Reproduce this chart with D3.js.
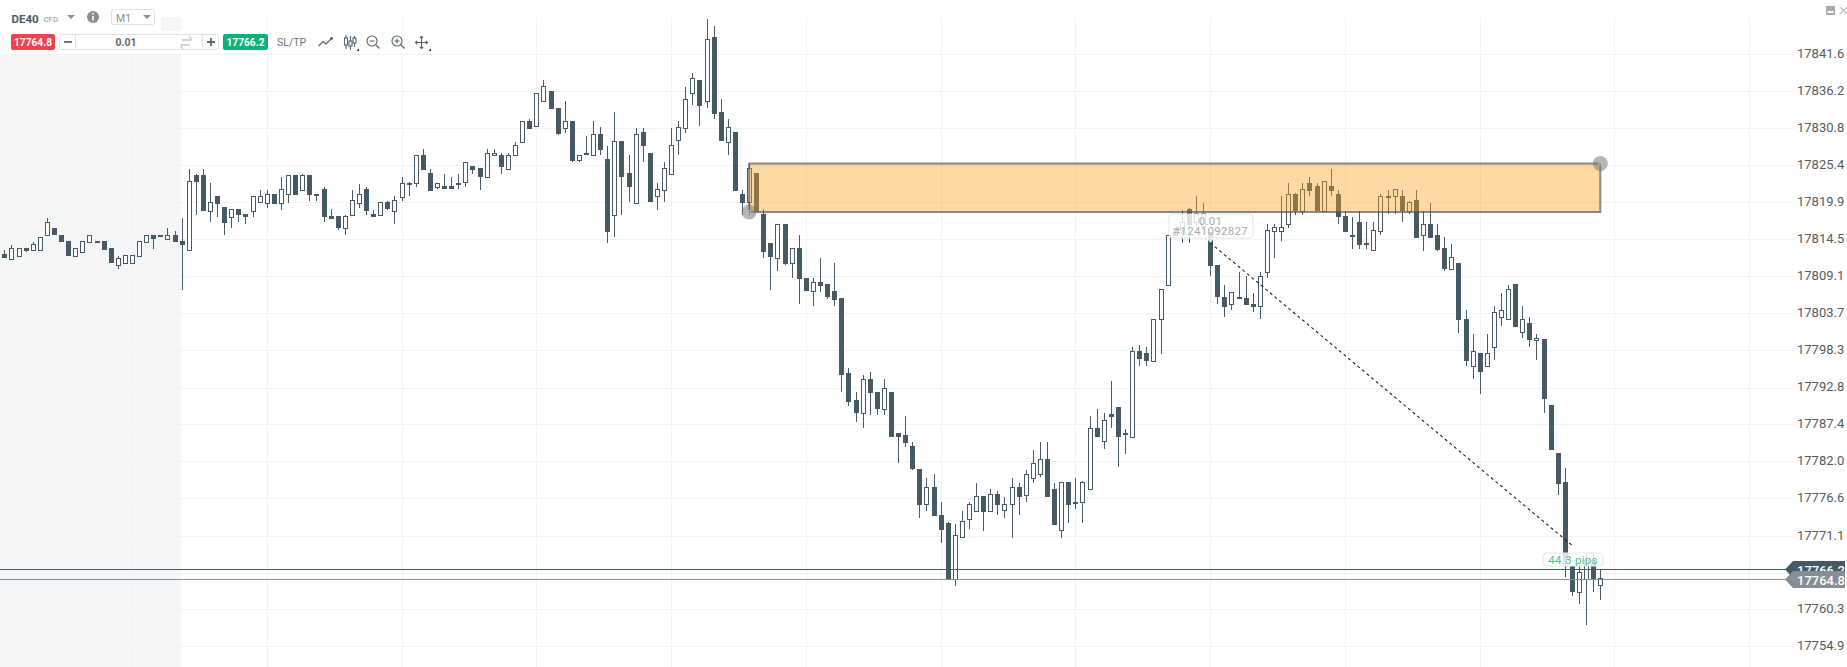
<!DOCTYPE html>
<html><head><meta charset="utf-8">
<style>html,body{margin:0;padding:0;background:#fff;overflow:hidden}svg{display:block;font-family:Roboto,sans-serif}</style>
<script src="https://cdn.jsdelivr.net/npm/d3@7/dist/d3.min.js"></script>
</head><body><svg id="c" width="1847" height="667"></svg>
<script>
const BASE = 17000;
const opens = [812.3,811.6,812.0,813.2,813.0,813.0,815.1,816.2,815.2,814.2,
812.0,812.6,814.1,814.2,814.2,813.2,810.7,811.0,811.0,812.0,
814.1,815.2,815.2,814.6,815.2,814.2,813.0,823.9,823.9,818.7,
820.9,819.2,817.7,818.9,818.2,818.7,820.0,819.8,821.2,819.8,
821.1,823.9,821.7,823.9,821.2,821.8,817.9,817.9,816.1,818.0,
819.8,821.8,818.2,818.0,820.0,818.7,820.7,822.8,822.7,826.9,
824.2,822.1,822.3,822.3,822.8,822.9,825.2,824.9,823.7,826.8,
826.9,824.8,826.8,828.7,831.9,831.1,834.7,836.2,833.8,830.8,
831.9,826.1,827.2,826.8,829.9,826.2,818.0,828.9,824.2,819.8,
830.2,827.2,820.8,821.7,824.0,829.0,830.8,836.0,837.9,834.7,
844.2,833.2,828.7,830.2,821.2,820.0,824.2,818.2,813.9,811.7,
816.8,811.0,813.2,808.9,807.0,808.2,807.9,806.9,805.9,794.9,
790.9,789.0,794.1,792.2,789.7,792.2,786.2,785.8,784.2,780.8,
775.7,778.2,774.2,772.9,764.7,770.9,773.6,774.7,776.9,774.7,
777.2,774.9,775.7,778.2,777.0,779.6,780.1,782.4,777.9,772.0,
778.9,776.1,776.0,778.0,786.8,785.0,788.9,789.9,786.2,785.6,
798.2,797.8,796.7,802.8,807.8,815.1,815.9,818.9,817.1,816.4,
815.6,810.8,806.1,805.0,806.1,805.9,805.1,804.7,809.7,815.7,
815.7,816.7,821.2,818.7,822.8,822.3,818.7,822.3,821.2,817.9,
815.2,817.1,813.9,813.0,815.7,820.9,820.8,820.9,818.7,820.2,
815.1,816.8,815.2,813.2,810.1,811.1,802.9,796.0,797.8,796.0,
798.7,803.1,802.8,807.9,801.0,802.2,799.7,799.9,790.2,783.2,
778.9,766.7,762.9,764.7,767.5,763.9];
const closes = [811.8,813.2,813.2,812.8,813.8,814.8,817.1,815.1,814.1,812.0,
813.2,814.2,815.2,813.9,813.0,811.0,811.7,812.2,812.2,814.2,
815.2,814.6,814.9,815.2,814.1,813.7,823.1,822.9,818.7,819.9,
819.7,816.9,818.9,818.0,817.8,820.9,820.9,821.2,819.7,821.8,
823.9,821.0,823.9,821.0,820.9,817.7,817.5,816.1,817.9,820.2,
821.2,818.7,817.7,819.9,819.0,820.2,822.8,822.6,826.9,824.7,
821.6,822.8,821.9,821.9,822.4,825.9,824.7,823.7,827.2,827.2,
825.1,826.9,828.3,831.9,830.7,835.9,836.9,833.6,829.9,831.9,
826.0,826.9,826.9,829.9,827.6,815.6,828.9,823.7,822.1,829.9,
828.1,820.0,821.8,824.9,828.3,830.9,835.1,838.2,834.1,843.9,
832.8,828.9,830.9,821.6,819.8,824.9,818.5,812.7,811.9,816.8,
810.9,813.2,808.7,806.9,808.2,807.7,806.0,805.6,794.7,790.7,
789.0,794.1,792.0,789.7,792.8,785.6,785.6,784.7,780.8,775.6,
778.2,774.0,772.0,764.7,771.2,773.2,775.8,776.9,774.6,777.2,
775.6,775.8,778.2,776.7,780.2,781.8,782.4,776.7,772.7,778.9,
775.6,775.8,778.9,786.8,785.6,788.1,788.5,785.6,785.9,798.2,
797.0,796.7,802.9,807.2,815.2,816.2,817.1,816.6,818.3,818.3,
810.6,806.0,804.6,806.8,805.8,804.9,804.6,809.2,815.8,816.3,
816.3,821.2,818.6,821.8,821.6,818.6,823.1,821.6,817.7,815.6,
814.9,813.7,813.6,815.8,820.9,820.6,821.8,818.6,819.9,814.7,
816.8,814.7,813.0,810.1,811.9,802.7,796.7,798.2,795.0,797.8,
803.8,804.2,807.2,801.7,802.9,799.7,800.1,791.1,783.7,778.7,
767.3,762.9,765.8,767.5,764.7,764.9];
const highs = [813.0,813.6,813.2,813.2,814.1,814.8,817.6,816.2,815.2,814.2,
813.2,814.2,815.2,814.2,814.2,813.2,812.0,812.2,812.2,814.2,
815.2,815.2,815.2,816.1,815.7,817.6,824.8,824.0,824.8,822.7,
820.9,819.2,818.9,818.9,818.2,820.9,821.7,821.7,821.2,823.7,
823.9,823.9,824.1,823.9,821.2,822.1,819.0,817.9,818.0,821.7,
822.6,822.1,818.8,819.9,820.1,820.8,823.7,822.9,826.9,827.7,
824.8,822.8,824.0,823.7,824.0,825.9,825.2,824.9,827.7,827.7,
827.1,827.1,828.7,831.9,832.1,835.9,837.8,836.2,833.8,834.7,
831.9,826.9,829.7,831.8,831.0,828.2,833.1,828.9,826.8,830.8,
830.8,827.2,822.7,825.8,830.8,831.8,836.8,838.8,837.9,846.8,
845.7,835.0,832.1,830.2,821.7,825.6,824.2,819.0,813.9,816.8,
816.8,813.2,815.1,808.9,808.8,811.8,807.9,811.0,805.9,795.7,
792.1,794.7,795.0,792.2,794.0,792.2,786.2,788.7,784.8,780.8,
779.6,780.1,776.0,773.1,772.8,774.7,776.0,778.8,776.9,778.0,
777.7,776.7,779.6,778.8,780.7,783.7,784.8,784.8,778.8,778.9,
778.9,779.6,779.1,788.7,789.7,789.0,793.7,789.9,786.7,798.7,
799.0,798.7,802.9,807.2,815.2,816.2,818.8,819.1,820.8,819.8,
815.6,810.8,807.8,806.8,809.7,809.1,806.7,809.7,816.7,816.7,
820.8,822.7,821.3,822.7,823.7,822.7,823.1,824.8,821.7,818.7,
817.7,818.7,817.0,817.0,821.1,821.7,821.8,821.7,820.1,821.7,
818.7,819.8,816.7,814.8,813.8,811.1,804.1,800.7,797.8,800.7,
804.7,806.7,807.8,807.9,804.7,803.1,800.7,799.9,790.2,783.2,
781.0,766.7,767.0,768.6,768.6,766.1];
const lows = [811.8,811.6,812.0,812.7,813.0,813.0,815.1,815.1,814.1,812.0,
812.0,812.6,814.1,813.9,813.0,811.0,810.2,811.0,811.0,812.0,
814.1,813.1,814.9,814.6,814.1,807.1,813.0,818.1,818.7,817.1,
817.7,815.1,816.2,817.1,816.8,817.8,819.9,819.1,819.7,818.8,
819.8,821.0,821.7,820.1,820.1,817.1,817.5,815.8,815.2,818.0,
819.1,818.1,817.7,818.0,818.8,816.8,820.1,820.8,822.2,824.7,
821.6,821.8,821.9,821.9,821.8,822.2,824.1,821.7,823.7,826.8,
824.1,824.8,826.8,828.7,830.7,831.1,834.7,833.6,829.8,830.1,
825.8,825.9,826.9,826.8,826.8,813.9,814.9,818.1,819.9,819.8,
825.8,820.0,818.8,819.9,824.0,826.8,830.1,834.2,831.1,833.7,
832.1,828.9,826.8,821.6,818.1,818.1,818.5,811.8,807.1,809.8,
810.7,808.9,805.1,806.9,804.8,806.8,805.8,804.8,792.2,790.1,
787.8,786.8,788.8,788.8,788.8,785.6,781.8,784.1,780.7,773.7,
774.7,774.0,770.1,764.7,763.8,770.9,772.1,774.7,771.8,774.7,
774.2,773.7,770.8,774.2,776.1,778.8,779.7,776.7,772.7,770.8,
772.9,775.0,772.9,777.8,785.6,783.8,786.8,781.1,783.1,785.6,
795.9,795.9,796.7,797.7,807.8,815.1,813.9,813.9,816.4,815.9,
809.2,805.1,803.2,804.2,805.8,804.9,803.8,802.9,808.9,811.8,
814.2,816.2,818.1,818.1,820.9,818.6,818.7,820.9,816.8,815.6,
813.1,813.1,813.1,812.9,815.2,818.2,818.2,817.1,818.2,814.7,
812.8,814.7,812.8,809.8,810.1,800.8,795.9,794.1,791.8,796.0,
796.8,801.8,802.8,801.7,800.0,798.8,796.8,789.1,783.7,777.1,
765.1,762.2,761.1,758.0,762.8,761.7];
const gridPrices = [841.6,836.2,830.8,825.4,819.9,814.5,809.1,803.7,798.3,792.8,787.4,782.0,776.6,771.1,765.7,760.3,754.9];
const labelPrices = [841.6,836.2,830.8,825.4,819.9,814.5,809.1,803.7,798.3,792.8,787.4,782.0,776.6,771.1,760.3,754.9];
const xGridIdx = [18,37,56,75,94,113,132,151,170,189,208,227,246];
const bid = 764.8, ask = 766.2;
const zoneIdx = [105,225], zonePrice = [825.6,818.5];
const tradeIdx = [170,221], tradePrice = [814.0,769.7];
const tradeLots = "0.01", tradeId = "#1241092827", tradePips = "44.3 pips";

const dark="#455a64";
const svg=d3.select("#c");
const x=d3.scaleLinear().domain([0,225]).range([4.33,1600.3]);
const y=d3.scaleLinear().domain([BASE+841.6,BASE+754.9]).range([54.3,646.3]);
const px=v=>Math.round(x(v))+0.5, py=v=>Math.round(y(BASE+v));

// backdrop
svg.append("rect").attr("x",0).attr("y",17).attr("width",181).attr("height",650).attr("fill","#f5f6f8");
const grid=svg.append("g").attr("stroke","#f1f2f4").attr("stroke-width",1);
grid.selectAll("line.h").data(gridPrices).join("line").attr("class","h")
  .attr("x1",0).attr("x2",1795).attr("y1",d=>py(d)+.5).attr("y2",d=>py(d)+.5);
grid.selectAll("line.v").data(xGridIdx).join("line").attr("class","v")
  .attr("x1",px).attr("x2",px).attr("y1",17).attr("y2",667);

// price axis
const ax=d3.axisRight(y).tickValues(labelPrices.map(d=>d+BASE)).tickFormat(d3.format(".1f")).tickSize(0).tickPadding(0);
const axG=svg.append("g").attr("transform","translate(1797,0)").call(ax);
axG.select(".domain").remove();
axG.selectAll("text").attr("font-family","Roboto").attr("font-size",13).attr("dy","0.26em").attr("fill","#555b60");

// candles
const data=opens.map((o,i)=>({i,o,c:closes[i],h:highs[i],l:lows[i]}));
const cg=svg.append("g");
cg.selectAll("line").data(data).join("line")
  .attr("x1",d=>px(d.i)).attr("x2",d=>px(d.i)).attr("y1",d=>py(d.h)).attr("y2",d=>py(d.l))
  .attr("stroke",dark).attr("stroke-width",1);
cg.selectAll("rect").data(data).join("rect")
  .attr("x",d=>d.c>d.o?px(d.i)-2:px(d.i)-2.5)
  .attr("width",d=>d.c>d.o?4:5)
  .attr("y",d=>py(Math.max(d.o,d.c))+(d.c>d.o?.5:0))
  .attr("height",d=>Math.max(py(Math.min(d.o,d.c))-py(Math.max(d.o,d.c)),2))
  .attr("fill",d=>d.c>d.o?"#fff":dark)
  .attr("stroke",d=>d.c>d.o?dark:"none").attr("stroke-width",1);

// price lines
svg.append("line").attr("x1",0).attr("x2",1786).attr("y1",py(ask)+.5).attr("y2",py(ask)+.5).attr("stroke",dark);
svg.append("line").attr("x1",0).attr("x2",1786).attr("y1",py(bid)+.5).attr("y2",py(bid)+.5).attr("stroke","#868f93");

// supply zone
const zx0=x(zoneIdx[0]),zx1=x(zoneIdx[1]),zy0=y(BASE+zonePrice[0]),zy1=y(BASE+zonePrice[1]);
svg.append("rect").attr("x",zx0).attr("y",zy0).attr("width",zx1-zx0).attr("height",zy1-zy0)
  .attr("fill","rgba(252,160,25,0.4)").attr("stroke","rgba(80,80,80,0.65)").attr("stroke-width",2);
[[zx0,zy1],[zx1,zy0]].forEach(p=>{
  svg.append("circle").attr("cx",p[0]).attr("cy",p[1]).attr("r",7.5).attr("fill","rgba(120,120,120,0.55)");
  svg.append("circle").attr("cx",p[0]).attr("cy",p[1]).attr("r",1.5).attr("fill","none").attr("stroke","#ddd").attr("stroke-width",.7);
});

// trade line
const tLine=d3.line().x(d=>x(d[0])).y(d=>y(BASE+d[1]));
svg.append("path").attr("d",tLine([[tradeIdx[0],tradePrice[0]],[tradeIdx[1],tradePrice[1]]]))
  .attr("fill","none").attr("stroke","#222").attr("stroke-width",1.1).attr("stroke-dasharray","3 3");

// tooltips
function tip(x0,y0,w,h,px0,py0,up){
  const g=svg.append("g");
  g.append("rect").attr("x",x0).attr("y",y0).attr("width",w).attr("height",h).attr("rx",4)
    .attr("fill","rgba(255,255,255,0.82)").attr("stroke","#e3e5e6");
  const yy=up?y0:y0+h;
  g.append("path").attr("d",`M${px0-4},${yy}L${px0},${py0}L${px0+4},${yy}Z`).attr("fill","rgba(255,255,255,0.82)");
  return g;
}
const t1=tip(1169,214,84,24,1210.5,243,false);
t1.append("text").attr("x",1210.5).attr("y",224.5).attr("text-anchor","middle").attr("font-size",11.5).attr("fill","#a9acae").attr("letter-spacing",.3).text(tradeLots);
t1.append("text").attr("x",1210.5).attr("y",235).attr("text-anchor","middle").attr("font-size",11.5).attr("fill","#a9acae").attr("letter-spacing",.3).text(tradeId);
const t2=tip(1543,553,60,13,1573,548,true);
t2.append("text").attr("x",1573).attr("y",563.5).attr("text-anchor","middle").attr("font-size",11.5).attr("fill","#4cc48f").attr("letter-spacing",.3).text(tradePips);

// price tags
function priceTag(v,col){
  const yy=py(v)+.5, g=svg.append("g");
  g.append("path").attr("d",`M1785,${yy}L1793,${yy-8.5}H1845V${yy+8.5}H1793Z`).attr("fill",col);
  g.append("text").attr("x",1797).attr("y",yy+5).attr("font-size",13).attr("font-weight",500).attr("fill","#fff").text(d3.format(".1f")(BASE+v));
}
priceTag(ask,dark); priceTag(bid,"#858f93");

// toolbar
const tb=svg.append("g");
tb.append("rect").attr("x",0).attr("y",0).attr("width",161).attr("height",31).attr("fill","#fff");
tb.append("rect").attr("x",0).attr("y",31).attr("width",440).attr("height",23).attr("fill","#fff");
tb.append("line").attr("x1",0).attr("x2",440).attr("y1",54.5).attr("y2",54.5).attr("stroke","#f1f2f4");
tb.append("text").attr("x",11.5).attr("y",22.5).attr("font-size",11.5).attr("font-weight",700).attr("fill","#455a64").text("DE40");
tb.append("text").attr("x",43.5).attr("y",21.5).attr("font-size",7.8).attr("fill","#8a9297").text("CFD");
const tri=(cx,cy,w,col)=>tb.append("path").attr("d",`M${cx-w},${cy}H${cx+w}L${cx},${cy+4}Z`).attr("fill",col);
tri(71,15,4,"#8b8f93");
tb.append("circle").attr("cx",93).attr("cy",17).attr("r",6).attr("fill","#8b8f93");
tb.append("rect").attr("x",92.2).attr("y",16).attr("width",1.6).attr("height",4.5).attr("fill","#fff");
tb.append("rect").attr("x",92.2).attr("y",13).attr("width",1.6).attr("height",1.6).attr("fill","#fff");
tb.append("rect").attr("x",111.5).attr("y",9.5).attr("width",43).attr("height",15).attr("rx",2).attr("fill","#fff").attr("stroke","#dfe1e3");
tb.append("text").attr("x",116).attr("y",21.5).attr("font-size",10.5).attr("fill","#8a9297").text("M1");
tri(147,15,4,"#8b8f93");
tb.append("rect").attr("x",11).attr("y",34).attr("width",44).attr("height",16).attr("rx",2).attr("fill","#f6404f");
tb.append("text").attr("x",33).attr("y",45.8).attr("text-anchor","middle").attr("font-size",10.2).attr("font-weight",700).attr("fill","#fff").text("17764.8");
tb.append("rect").attr("x",59.5).attr("y",34.5).attr("width",159).attr("height",15).attr("rx",2).attr("fill","#fff").attr("stroke","#dfe1e3");
tb.append("line").attr("x1",75.5).attr("x2",75.5).attr("y1",34).attr("y2",50).attr("stroke","#dfe1e3");
tb.append("line").attr("x1",202.5).attr("x2",202.5).attr("y1",34).attr("y2",50).attr("stroke","#dfe1e3");
tb.append("rect").attr("x",64).attr("y",41).attr("width",8).attr("height",1.8).attr("fill","#5a6a72");
tb.append("path").attr("d","M207,42H215M211,38V46").attr("stroke","#5a6a72").attr("stroke-width",1.8);
tb.append("text").attr("x",126).attr("y",45.8).attr("text-anchor","middle").attr("font-size",10.5).attr("font-weight",700).attr("fill","#5f686d").text("0.01");
tb.append("path").attr("d","M182,40H191V38M191,38L189,36M190,45H181V47M181,47L183,49").attr("fill","none").attr("stroke","#c4c8ca").attr("stroke-width",1.3);
tb.append("rect").attr("x",223).attr("y",34).attr("width",45).attr("height",16).attr("rx",2).attr("fill","#0bb37a");
tb.append("text").attr("x",245.5).attr("y",45.8).attr("text-anchor","middle").attr("font-size",10.2).attr("font-weight",700).attr("fill","#fff").text("17766.2");
tb.append("text").attr("x",277).attr("y",45.5).attr("font-size",10.5).attr("fill","#66757d").text("SL/TP");
const ic=tb.append("g").attr("fill","none").attr("stroke","#53646c").attr("stroke-width",1.1);
ic.append("path").attr("d","M318.5,46L323,41.5L326,44L331,39");
ic.append("circle").attr("cx",331.5).attr("cy",38.5).attr("r",.9).attr("fill","#53646c");
ic.append("path").attr("d","M346,35V49M350.5,36V50M354.5,36V47");
[[344.5,38,3,7],[349,41,3,5],[353,38,3,5]].forEach(r=>ic.append("rect").attr("x",r[0]).attr("y",r[1]).attr("width",r[2]).attr("height",r[3]).attr("fill","#fff"));
ic.append("circle").attr("cx",372).attr("cy",41).attr("r",5);
ic.append("path").attr("d","M369.5,41H374.5M375.5,44.5L379.5,48.5");
ic.append("circle").attr("cx",397).attr("cy",41).attr("r",5);
ic.append("path").attr("d","M394.5,41H399.5M397,38.5V43.5M400.5,44.5L404.5,48.5");
ic.append("path").attr("d","M421.5,36V49M415,42.5H428");
ic.append("path").attr("d","M420,38L421.5,36.5L423,38M420,47L421.5,48.5L423,47M417,41L415.5,42.5L417,44M426,41L427.5,42.5L426,44");
[[359,51],[431,51]].forEach(p=>tb.append("path").attr("d",`M${p[0]-2.5},${p[1]}L${p[0]},${p[1]-2.5}V${p[1]}Z`).attr("fill","#222"));
// window controls
svg.append("rect").attr("x",1826).attr("y",6).attr("width",9).attr("height",9).attr("fill","#a6abae");
svg.append("rect").attr("x",1827.5).attr("y",11).attr("width",6).attr("height",2).attr("fill","#fff");
svg.append("path").attr("d","M1840,7L1847,14M1847,7L1840,14").attr("stroke","#b9bdc0").attr("stroke-width",1.1);
</script></body></html>
